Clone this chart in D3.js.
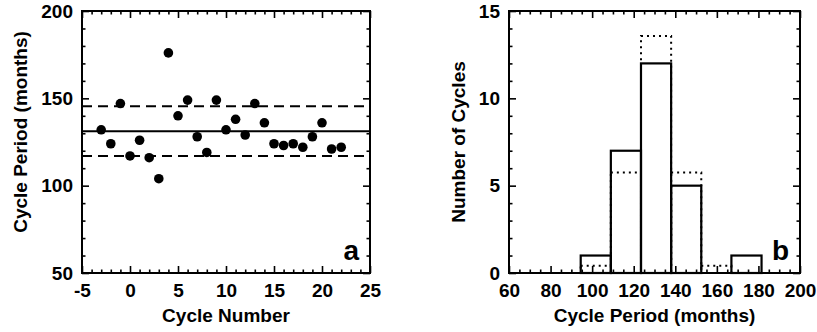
<!DOCTYPE html>
<html>
<head>
<meta charset="utf-8">
<script src="https://cdn.jsdelivr.net/npm/d3@7"></script>
<style>
  html, body { margin: 0; padding: 0; background: #fff; }
  svg { display: block; }
  text { font-family: "Liberation Sans", Arial, Helvetica, sans-serif; fill: #000; }
</style>
</head>
<body>
<svg id="chart" width="817" height="332"></svg>
<script>
// ---------- Data ----------
// Panel a: cycle period vs cycle number
const cycleNumbers = [-3, -2, -1, 0, 1, 2, 3, 4, 5, 6, 7, 8, 9, 10, 11, 12, 13, 14, 15, 16, 17, 18, 19, 20, 21, 22];
const cyclePeriods = [132, 124, 147, 117, 126, 116, 104, 176, 140, 149, 128, 119, 149, 132, 138, 129, 147, 136, 124, 123, 124, 122, 128, 136, 121, 122];
const meanPeriod = 131.2;
const sigmaLines = [145.5, 117];

// Panel b: histogram of cycle periods
const binEdges = [94.5, 109, 123.5, 138, 152.5, 167, 181.5];
const binCounts = [1, 7, 12, 5, 0, 1];
const gaussCounts = [0.42, 5.76, 13.57, 5.76, 0.42, 0];

// Axis ticks
const aXTicks = [-5, 0, 5, 10, 15, 20, 25];
const aYTicks = [50, 100, 150, 200];
const bXTicks = [60, 80, 100, 120, 140, 160, 180, 200];
const bYTicks = [0, 5, 10, 15];

// ---------- Drawing ----------
const svg = d3.select("#chart");
svg.append("rect").attr("width", 817).attr("height", 332).attr("fill", "#fff");

const FONT = 19;
const fmt = d => String(d);

function framedAxes(x, y, xMajor, xMinorStep, yMajor, yMinorStep) {
  const [x0, x1] = x.domain();
  const [y0, y1] = y.domain();
  const xMinor = d3.range(x0, x1 + 1e-9, xMinorStep).filter(v => !xMajor.includes(v));
  const yMinor = d3.range(y0, y1 + 1e-9, yMinorStep).filter(v => !yMajor.includes(v));
  const bottom = y.range()[0], top = y.range()[1];
  const left = x.range()[0], right = x.range()[1];
  const g = svg.append("g");

  function styleAxis(sel) {
    sel.select(".domain").remove();
    sel.selectAll(".tick line").attr("stroke", "#000").attr("stroke-width", 1.6);
    sel.selectAll("text").attr("font-size", FONT).attr("font-weight", "bold")
      .attr("fill", "#000");
  }
  g.append("g").attr("transform", `translate(0,${bottom})`)
    .call(d3.axisBottom(x).tickValues(xMajor).tickSize(-7).tickPadding(11).tickFormat(fmt))
    .call(styleAxis);
  g.append("g").attr("transform", `translate(0,${bottom})`)
    .call(d3.axisBottom(x).tickValues(xMinor).tickSize(-3.5).tickFormat(""))
    .call(styleAxis);
  g.append("g").attr("transform", `translate(0,${top})`)
    .call(d3.axisTop(x).tickValues(xMajor).tickSize(-7).tickFormat(""))
    .call(styleAxis);
  g.append("g").attr("transform", `translate(0,${top})`)
    .call(d3.axisTop(x).tickValues(xMinor).tickSize(-3.5).tickFormat(""))
    .call(styleAxis);
  g.append("g").attr("transform", `translate(${left},0)`)
    .call(d3.axisLeft(y).tickValues(yMajor).tickSize(-7).tickPadding(9).tickFormat(fmt))
    .call(styleAxis);
  g.append("g").attr("transform", `translate(${left},0)`)
    .call(d3.axisLeft(y).tickValues(yMinor).tickSize(-3.5).tickFormat(""))
    .call(styleAxis);
  g.append("g").attr("transform", `translate(${right},0)`)
    .call(d3.axisRight(y).tickValues(yMajor).tickSize(-7).tickFormat(""))
    .call(styleAxis);
  g.append("g").attr("transform", `translate(${right},0)`)
    .call(d3.axisRight(y).tickValues(yMinor).tickSize(-3.5).tickFormat(""))
    .call(styleAxis);
  g.append("rect").attr("x", left).attr("y", top)
    .attr("width", right - left).attr("height", bottom - top)
    .attr("fill", "none").attr("stroke", "#000").attr("stroke-width", 2);
  return g;
}

// ----- Panel a -----
const xa = d3.scaleLinear().domain([-5, 25]).range([82, 370]);
const ya = d3.scaleLinear().domain([50, 200]).range([273, 11]);

const pa = svg.append("g");
pa.append("line")
  .attr("x1", xa(-5)).attr("x2", xa(25))
  .attr("y1", ya(meanPeriod)).attr("y2", ya(meanPeriod))
  .attr("stroke", "#000").attr("stroke-width", 2);
pa.selectAll("line.sig").data(sigmaLines).join("line").attr("class", "sig")
  .attr("x1", xa(-5)).attr("x2", xa(25))
  .attr("y1", d => ya(d)).attr("y2", d => ya(d))
  .attr("stroke", "#000").attr("stroke-width", 2).attr("stroke-dasharray", "10,6");
pa.selectAll("circle").data(cycleNumbers).join("circle")
  .attr("cx", d => xa(d)).attr("cy", (d, i) => ya(cyclePeriods[i]))
  .attr("r", 4.8).attr("fill", "#000");

framedAxes(xa, ya, aXTicks, 1, aYTicks, 10);

svg.append("text").attr("x", 226).attr("y", 322).attr("text-anchor", "middle")
  .attr("font-size", FONT).attr("font-weight", "bold").text("Cycle Number");
svg.append("text").attr("transform", "translate(27,132) rotate(-90)").attr("text-anchor", "middle")
  .attr("font-size", FONT).attr("font-weight", "bold").text("Cycle Period (months)");
svg.append("text").attr("x", 359).attr("y", 260).attr("text-anchor", "end")
  .attr("font-size", 28).attr("font-weight", "bold").text("a");

// ----- Panel b -----
const xb = d3.scaleLinear().domain([60, 200]).range([509, 800]);
const yb = d3.scaleLinear().domain([0, 15]).range([273, 11]);

const bins = binCounts.map((c, i) => ({ x0: binEdges[i], x1: binEdges[i + 1], c, g: gaussCounts[i] }));
const pb = svg.append("g");
pb.selectAll("rect.bar").data(bins.filter(d => d.c > 0)).join("rect").attr("class", "bar")
  .attr("x", d => xb(d.x0)).attr("width", d => xb(d.x1) - xb(d.x0))
  .attr("y", d => yb(d.c)).attr("height", d => yb(0) - yb(d.c))
  .attr("fill", "none").attr("stroke", "#000").attr("stroke-width", 2.2);
pb.selectAll("rect.gauss").data(bins.filter(d => d.g > 0.05)).join("rect").attr("class", "gauss")
  .attr("x", d => xb(d.x0)).attr("width", d => xb(d.x1) - xb(d.x0))
  .attr("y", d => yb(d.g)).attr("height", d => yb(0) - yb(d.g))
  .attr("fill", "none").attr("stroke", "#000").attr("stroke-width", 2)
  .attr("stroke-dasharray", "2,4");

framedAxes(xb, yb, bXTicks, 5, bYTicks, 1);

svg.append("text").attr("x", 654.5).attr("y", 322).attr("text-anchor", "middle")
  .attr("font-size", FONT).attr("font-weight", "bold").text("Cycle Period (months)");
svg.append("text").attr("transform", "translate(465,142) rotate(-90)").attr("text-anchor", "middle")
  .attr("font-size", FONT).attr("font-weight", "bold").text("Number of Cycles");
svg.append("text").attr("x", 789).attr("y", 260).attr("text-anchor", "end")
  .attr("font-size", 28).attr("font-weight", "bold").text("b");
</script>
</body>
</html>
